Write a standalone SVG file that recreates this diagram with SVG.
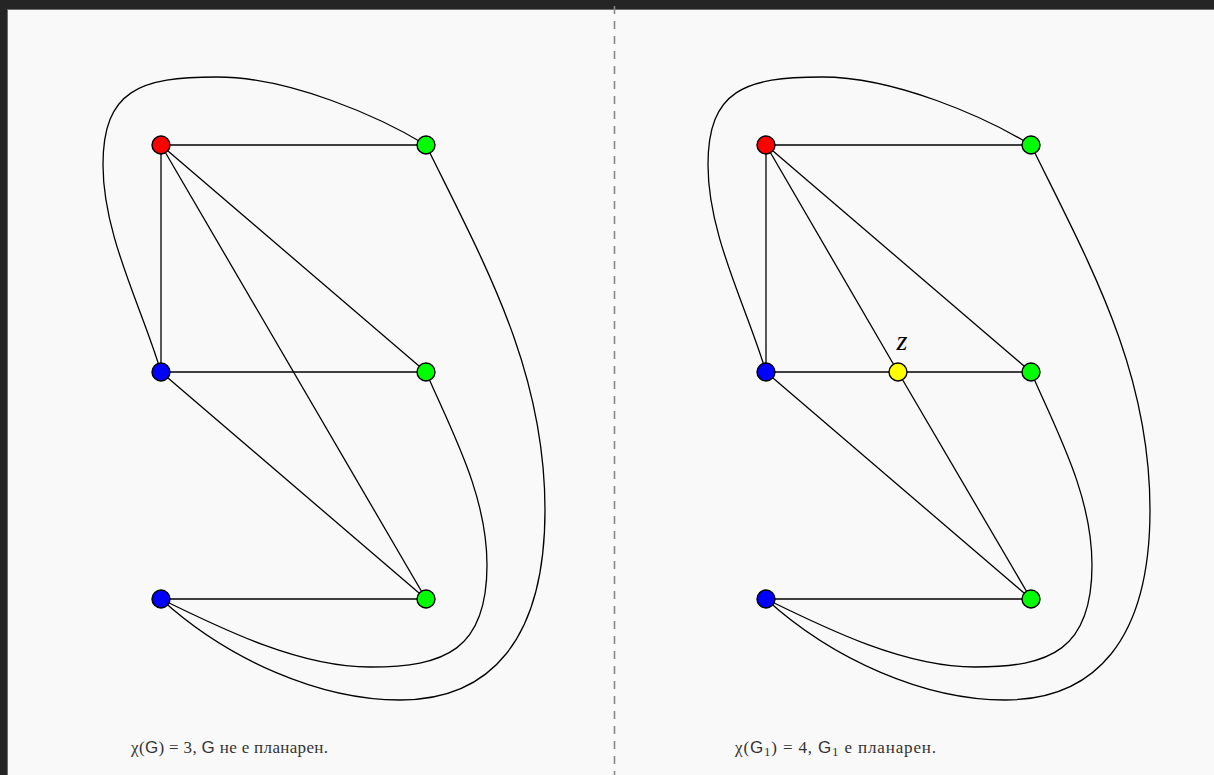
<svg xmlns="http://www.w3.org/2000/svg" width="1214" height="775" viewBox="0 0 1214 775">
<style>
.e{fill:none;stroke:#000;stroke-width:1.3}
.n{stroke:#000;stroke-width:1.4}
.cap{font-family:"Liberation Serif","DejaVu Serif",serif;font-size:17px;fill:#333}
.g{font-family:"Liberation Sans","DejaVu Sans",sans-serif}
</style>
<rect x="0" y="0" width="1214" height="775" fill="#f9f9f9"/>
<rect x="0" y="0" width="1214" height="9" fill="#252525"/>
<rect x="0" y="9" width="1214" height="1" fill="#6e6e6e"/>
<rect x="0" y="0" width="7" height="775" fill="#252525"/>
<rect x="7" y="10" width="1" height="765" fill="#6e6e6e"/>
<line x1="614.5" y1="6" x2="614.5" y2="775" stroke="#888" stroke-width="1.6" stroke-dasharray="8 7"/>

<g id="left-edges">
<g class="e">
<path d="M161,145H426"/>
<path d="M161,145V372"/>
<path d="M161,145L426,372"/>
<path d="M161,145L426,599"/>
<path d="M161,372H426"/>
<path d="M161,372L426,599"/>
<path d="M161,599H426"/>
<path d="M161,372C141,305 103,235 103,165C103,90 140,77 217,77C290,77 380,117 426,145"/>
<path d="M426,145C485,265 545,370 545,510C545,640 490,700 400,700C320,700 228,660 161,599"/>
<path d="M426,372C452,432 487,495 487,565C487,650 445,667 370,667C300,667 224,630 161,599"/>
</g>
</g>

<g id="right-edges" transform="translate(605,0)">
<g class="e">
<path d="M161,145H426"/>
<path d="M161,145V372"/>
<path d="M161,145L426,372"/>
<path d="M161,145L293,372"/>
<path d="M293,372L426,599"/>
<path d="M161,372H426"/>
<path d="M161,372L426,599"/>
<path d="M161,599H426"/>
<path d="M161,372C141,305 103,235 103,165C103,90 140,77 217,77C290,77 380,117 426,145"/>
<path d="M426,145C485,265 545,370 545,510C545,640 490,700 400,700C320,700 228,660 161,599"/>
<path d="M426,372C452,432 487,495 487,565C487,650 445,667 370,667C300,667 224,630 161,599"/>
</g>
</g>

<g id="L-red"><circle class="n" cx="161" cy="145" r="9" fill="#ff0000"/></g>
<g id="L-g1"><circle class="n" cx="426" cy="145" r="9" fill="#00ff00"/></g>
<g id="L-blue2"><circle class="n" cx="161" cy="372" r="9" fill="#0000ff"/></g>
<g id="L-g2"><circle class="n" cx="426" cy="372" r="9" fill="#00ff00"/></g>
<g id="L-blue3"><circle class="n" cx="161" cy="599" r="9" fill="#0000ff"/></g>
<g id="L-g3"><circle class="n" cx="426" cy="599" r="9" fill="#00ff00"/></g>

<g id="R-red"><circle class="n" cx="766" cy="145" r="9" fill="#ff0000"/></g>
<g id="R-g1"><circle class="n" cx="1031" cy="145" r="9" fill="#00ff00"/></g>
<g id="R-blue2"><circle class="n" cx="766" cy="372" r="9" fill="#0000ff"/></g>
<g id="R-z"><circle class="n" cx="898" cy="372" r="9" fill="#ffff00"/><text x="902" y="350" font-family="Liberation Serif,DejaVu Serif,serif" font-style="italic" font-size="28" text-anchor="middle" fill="#000">z</text></g>
<g id="R-g2"><circle class="n" cx="1031" cy="372" r="9" fill="#00ff00"/></g>
<g id="R-blue3"><circle class="n" cx="766" cy="599" r="9" fill="#0000ff"/></g>
<g id="R-g3"><circle class="n" cx="1031" cy="599" r="9" fill="#00ff00"/></g>

<text class="cap" x="131" y="753" textLength="197" lengthAdjust="spacing">χ(<tspan class="g">G</tspan>) = 3, <tspan class="g">G</tspan> не е планарен.</text>
<text class="cap" x="735" y="753" textLength="201" lengthAdjust="spacing">χ(<tspan class="g">G</tspan><tspan font-size="13" dy="3">1</tspan><tspan dy="-3">) = 4, </tspan><tspan class="g">G</tspan><tspan font-size="13" dy="3">1</tspan><tspan dy="-3"> е планарен.</tspan></text>
</svg>
